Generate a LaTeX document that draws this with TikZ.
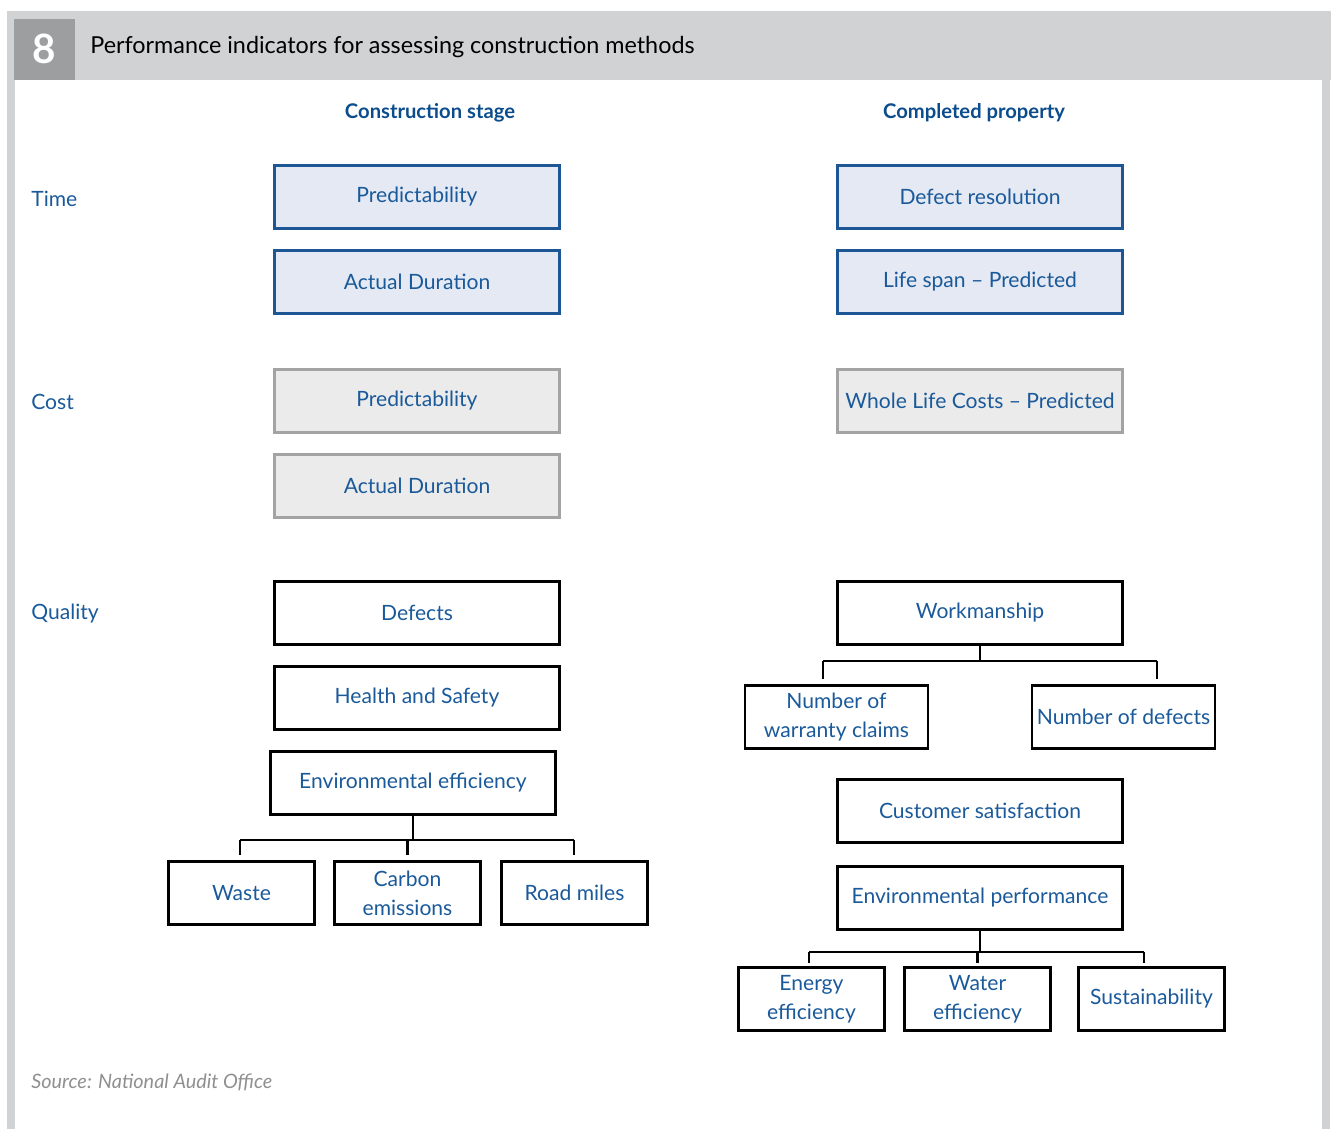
\documentclass[tikz,border=0pt]{standalone}
\usepackage{fontspec}
\setmainfont{Lato}
\usetikzlibrary{positioning}
\definecolor{hdrgrey}{HTML}{D1D2D4}
\definecolor{numgrey}{HTML}{9D9EA0}
\definecolor{txtblue}{HTML}{1B5A9A}
\definecolor{headblue}{HTML}{0B4C8C}
\definecolor{boxblue}{HTML}{1D5694}
\definecolor{boxbluefill}{HTML}{E4E9F3}
\definecolor{boxgrey}{HTML}{A3A3A3}
\definecolor{boxgreyfill}{HTML}{EBEBEB}
\definecolor{srcgrey}{HTML}{8F8F8F}
\tikzset{
	indbox/.style={minimum width=5.7cm, minimum height=1.26cm, inner sep=0pt, align=center, text=txtblue, font=\fontsize{12}{16.5}\selectfont},
	timebox/.style={indbox, draw=boxblue, fill=boxbluefill, line width=1.7pt},
	costbox/.style={indbox, draw=boxgrey, fill=boxgreyfill, line width=1.7pt},
	qualbox/.style={indbox, draw=black, line width=1.4pt},
	subbox/.style={qualbox, minimum width=2.92cm},
	widebox/.style={qualbox, minimum width=3.66cm},
	tree/.style={line width=1.6pt},
	rowlabel/.style={anchor=west, inner sep=0pt, text=txtblue, font=\fontsize{12}{14}\selectfont},
	colhead/.style={inner sep=0pt, text=headblue, font=\fontsize{11.5}{14}\selectfont\bfseries}
}

\begin{document}
\begin{tikzpicture}[x=0.02cm, y=-0.02cm]
	%%%%% START %%%%%
	\useasboundingbox (0,0) rectangle (1333,1129);

	% frame and title band
	\fill[hdrgrey] (7,11) rectangle (1331,80);
	\fill[hdrgrey] (7,80) rectangle (15,1129);
	\fill[hdrgrey] (1322,80) rectangle (1330,1129);
	\fill[numgrey] (14,19) rectangle (75,80);
	\node[text=white, font=\fontsize{23}{24}\selectfont\bfseries] (num) at (44.5,49) {8};
	\node[anchor=west, inner sep=0pt, font=\fontsize{13.3}{16}\selectfont] (title) at (90,47) {Performance indicators for assessing construction methods};

	% column and row headings
	\node[colhead] (hdConstr) at (430,113) {Construction stage};
	\node[colhead] (hdCompl) at (974,113) {Completed property};
	\node[rowlabel] (lbTime) at (31,199) {Time};
	\node[rowlabel] (lbCost) at (31,402) {Cost};
	\node[rowlabel] (lbQual) at (31,614) {Quality};

	% time
	\node[timebox] (tPred) at (417,197) {Predictability};
	\node[timebox] (tDur) at (417,282) {Actual Duration};
	\node[timebox] (tDefect) at (980,197) {Defect resolution};
	\node[timebox] (tLife) at (980,282) {Life span -- Predicted};

	% cost
	\node[costbox] (cPred) at (417,401) {Predictability};
	\node[costbox] (cDur) at (417,486) {Actual Duration};
	\node[costbox] (cWlc) at (980,401) {Whole Life Costs -- Predicted};

	% quality, construction stage
	\node[qualbox] (qDefects) at (417,613) {Defects};
	\node[qualbox] (qHealth) at (417,698) {Health and Safety};
	\node[qualbox] (qEnvEff) at (413,783) {Environmental efficiency};
	\node[subbox] (qWaste) at (241.5,893) {Waste};
	\node[subbox] (qCarbon) at (407.5,893) {Carbon\\emissions};
	\node[subbox] (qRoad) at (574.5,893) {Road miles};

	\coordinate (eeBusL) at (240,840);
	\coordinate (eeBusR) at (574,840);
	\draw[tree] (qEnvEff) -- (qEnvEff |- eeBusL);
	\draw[tree] (eeBusL) -- (eeBusR);
	\draw[tree] (eeBusL) -- ([yshift=0.1cm]eeBusL |- qWaste.north);
	\draw[tree] (qCarbon |- eeBusL) -- ([yshift=0.1cm]qCarbon.north);
	\draw[tree] (eeBusR) -- ([yshift=0.1cm]eeBusR |- qRoad.north);

	% quality, completed property
	\node[qualbox] (qWork) at (980,613) {Workmanship};
	\node[widebox] (qWarranty) at (836.5,717) {Number of\\warranty claims};
	\node[widebox] (qNumDef) at (1123.5,717) {Number of defects};
	\node[qualbox] (qCust) at (980,811) {Customer satisfaction};
	\node[qualbox] (qEnvPerf) at (980,898) {Environmental performance};
	\node[subbox] (qEnergy) at (811.5,999) {Energy\\efficiency};
	\node[subbox] (qWater) at (977.5,999) {Water\\efficiency};
	\node[subbox] (qSust) at (1151.5,999) {Sustainability};

	\coordinate (wkBusL) at (823,661);
	\coordinate (wkBusR) at (1157,661);
	\draw[tree] (qWork) -- (qWork |- wkBusL);
	\draw[tree] (wkBusL) -- (wkBusR);
	\draw[tree] (wkBusL) -- ([yshift=0.1cm]wkBusL |- qWarranty.north);
	\draw[tree] (wkBusR) -- ([yshift=0.1cm]wkBusR |- qNumDef.north);

	\coordinate (epBusL) at (809,952);
	\coordinate (epBusR) at (1144,952);
	\draw[tree] (qEnvPerf) -- (qEnvPerf |- epBusL);
	\draw[tree] (epBusL) -- (epBusR);
	\draw[tree] (epBusL) -- ([yshift=0.06cm]epBusL |- qEnergy.north);
	\draw[tree] (qWater |- epBusL) -- ([yshift=0.06cm]qWater.north);
	\draw[tree] (epBusR) -- ([yshift=0.06cm]epBusR |- qSust.north);

	% source
	\node[anchor=west, inner sep=0pt, text=srcgrey, font=\fontsize{11.3}{13}\selectfont\itshape] (source) at (31,1082) {Source: National Audit Office};
	%%%%% END %%%%%
\end{tikzpicture}
\end{document}
